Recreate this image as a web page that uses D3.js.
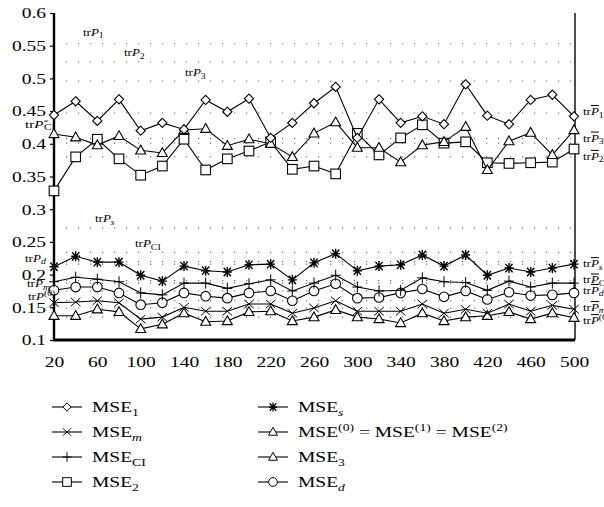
<!DOCTYPE html>
<html>
<head>
<meta charset="utf-8">
<script src="https://cdn.jsdelivr.net/npm/d3@7"></script>
<style>
  body { margin: 0; background: #fff; }
  svg text { font-family: "Liberation Serif", "DejaVu Serif", serif; fill: #000; }
</style>
</head>
<body>
<svg id="chart" width="604" height="507"></svg>
<script>
// sample sizes
var sizes = [20,40,60,80,100,120,140,160,180,200,220,240,260,280,300,320,340,360,380,400,420,440,460,480,500];

var mse1  = [0.444,0.465,0.435,0.468,0.420,0.432,0.422,0.467,0.449,0.469,0.409,0.432,0.462,0.487,0.409,0.468,0.432,0.442,0.430,0.491,0.443,0.430,0.467,0.475,0.442];
var mse3  = [0.415,0.410,0.398,0.412,0.390,0.386,0.421,0.423,0.397,0.407,0.400,0.380,0.416,0.433,0.394,0.394,0.372,0.398,0.403,0.426,0.360,0.404,0.417,0.383,0.421];
var mse2  = [0.328,0.380,0.407,0.377,0.352,0.366,0.407,0.360,0.377,0.389,0.403,0.361,0.366,0.354,0.416,0.383,0.409,0.429,0.401,0.403,0.371,0.370,0.371,0.372,0.392];
var mseS  = [0.212,0.228,0.219,0.219,0.199,0.190,0.213,0.206,0.204,0.215,0.216,0.192,0.218,0.232,0.206,0.213,0.215,0.230,0.213,0.230,0.199,0.210,0.204,0.210,0.216];
var mseCI = [0.189,0.196,0.193,0.189,0.172,0.169,0.187,0.187,0.179,0.186,0.192,0.175,0.187,0.199,0.181,0.175,0.176,0.195,0.189,0.188,0.176,0.190,0.181,0.187,0.187];
var mseD  = [0.176,0.181,0.181,0.172,0.154,0.157,0.172,0.167,0.164,0.172,0.175,0.160,0.175,0.186,0.164,0.165,0.172,0.178,0.166,0.175,0.162,0.173,0.168,0.169,0.172];
var mseM  = [0.157,0.158,0.160,0.157,0.132,0.135,0.150,0.144,0.144,0.155,0.155,0.141,0.149,0.160,0.144,0.144,0.144,0.155,0.141,0.147,0.141,0.155,0.144,0.153,0.147];
var mse0  = [0.137,0.137,0.147,0.143,0.117,0.124,0.141,0.128,0.129,0.143,0.144,0.129,0.135,0.146,0.135,0.132,0.126,0.141,0.129,0.135,0.137,0.143,0.132,0.141,0.134];

// theoretical traces (dotted lines)
var traceNames  = ['P1','P2','P3','P*CI','Ps','PCI','Pd','Pm','P0','Pb1','Pb3','Pb2','Pbs','PbCI','Pbd','Pbm','Pb0'];
var traceValues = [0.553,0.525,0.496,0.401,0.271,0.234,0.220,0.187,0.160,0.447,0.408,0.380,0.216,0.191,0.175,0.149,0.135];

var yTicks = [0.1,0.15,0.2,0.25,0.3,0.35,0.4,0.45,0.5,0.55,0.6];
var xTicks = [20,60,100,140,180,220,260,300,340,380,420,460,500];

var svg = d3.select('#chart');
var m = {t:13, l:54, r:30, b:167},
    w = 604 - m.l - m.r,
    h = 507 - m.t - m.b;
var K = 1.3; // horizontal stretch of the original figure's text

var x = d3.scaleLinear().domain([20,500]).range([0,w]);
var y = d3.scaleLinear().domain([0.1,0.6]).range([h,0]);

var g = svg.append('g').attr('transform','translate('+m.l+','+m.t+')');

function stretch(sel){
    sel.each(function(){
        var L = this.getComputedTextLength();
        d3.select(this).attr('textLength', L*K).attr('lengthAdjust','spacingAndGlyphs');
    });
}

// dotted reference lines
g.selectAll('.ref').data(traceValues).enter().append('line')
    .attr('x1',12).attr('x2',w-2)
    .attr('y1',function(d){return y(d)}).attr('y2',function(d){return y(d)})
    .attr('stroke','#666').attr('stroke-width',1.1)
    .attr('stroke-dasharray','1.2,10.8');

// axes
var yAxis = g.append('g').call(d3.axisLeft(y).tickValues(yTicks).tickSize(4).tickPadding(4)
    .tickFormat(function(d){return String(+d.toFixed(2))}));
yAxis.select('.domain').remove();
yAxis.selectAll('.tick line').attr('stroke','#000').attr('stroke-width',1.2);
yAxis.selectAll('text').attr('font-size',15).attr('font-family','Liberation Serif').call(stretch);

var xAxis = g.append('g').attr('transform','translate(0,'+h+')')
    .call(d3.axisBottom(x).tickValues(xTicks).tickSize(0).tickPadding(16));
xAxis.select('.domain').remove();
xAxis.selectAll('text').attr('font-size',15).attr('font-family','Liberation Serif').call(stretch);

g.append('line').attr('x1',0).attr('x2',0).attr('y1',0).attr('y2',h+1)
    .attr('stroke','#000').attr('stroke-width',2.4);
g.append('line').attr('x1',-1).attr('x2',w+1).attr('y1',h).attr('y2',h)
    .attr('stroke','#000').attr('stroke-width',2.8);
g.append('line').attr('x1',w+1).attr('x2',w+1).attr('y1',0).attr('y2',h)
    .attr('stroke','#000').attr('stroke-width',1.4);

// marker shapes
function marker(sel, type){
    var s = 4.6;
    if(type=='diamond') sel.append('path').attr('d','M0,'+(-s)+'L'+s+',0L0,'+s+'L'+(-s)+',0Z');
    else if(type=='square') sel.append('rect').attr('x',-4.8).attr('y',-4.8).attr('width',9.6).attr('height',9.6);
    else if(type=='circle') sel.append('circle').attr('r',4.8);
    else if(type=='triangle') sel.append('path').attr('d','M0,-5.2L5,3.6L-5,3.6Z');
    else if(type=='x') sel.append('path').attr('d','M-4.8,-4.2L4.8,4.2M-4.8,4.2L4.8,-4.2').attr('fill','none');
    else if(type=='plus') sel.append('path').attr('d','M-5,0L5,0M0,-5.5L0,5.5').attr('fill','none');
    else if(type=='star') sel.append('path').attr('d','M-4.5,0L4.5,0M-3.6,-4.2L3.6,4.2M-3.6,4.2L3.6,-4.2M0,-5L0,5').attr('fill','none').attr('stroke-width',1.4);
    sel.selectAll('*').attr('stroke','#000').filter(function(){return this.getAttribute('fill')!='none'})
        .attr('fill','#fff').attr('stroke-width',1.1);
}

var series = [
    {vals:mse0, type:'triangle'},
    {vals:mseM, type:'x'},
    {vals:mseD, type:'circle'},
    {vals:mseCI, type:'plus'},
    {vals:mseS, type:'star'},
    {vals:mse2, type:'square'},
    {vals:mse3, type:'triangle'},
    {vals:mse1, type:'diamond'}
];

var line = d3.line().x(function(d,i){return x(sizes[i])}).y(function(d){return y(d)});

series.forEach(function(s){
    g.append('path').datum(s.vals).attr('d',line)
        .attr('fill','none').attr('stroke','#000').attr('stroke-width',1.1);
    g.selectAll(null).data(s.vals).enter().append('g')
        .attr('transform',function(d,i){return 'translate('+x(sizes[i])+','+y(d)+')'})
        .each(function(){ marker(d3.select(this), s.type); });
});

// trace labels: [index into traces, x (px from chart left), dy from line]
var labelPos = [
    [0, 29, -8], [1, 70, -6], [2, 131, -5], [3, -29, -15], [4, 41, -6], [5, 81, -5],
    [6, -29, 0], [7, -27, 4], [8, -26, -1],
    [9, w+9, 2], [10, w+9, 3], [11, w+9, 3], [12, w+9, 3], [13, w+9, 3], [14, w+9, 3], [15, w+9, 3], [16, w+9, 7]
];

function traceLabel(sel, name){
    var bar = name.indexOf('Pb')==0;
    var sub = bar ? name.slice(2) : name.slice(1);
    var star = false;
    if(sub.indexOf('*')==0){ star = true; sub = sub.slice(1); }
    sel.append('tspan').text('tr');
    var p = sel.append('tspan').attr('font-style','italic').text('P');
    if(bar) p.attr('text-decoration','overline');
    if(sub=='0'){
        sel.append('tspan').attr('dy',-4).attr('font-size',7.5).text('(0)');
    } else {
        var it = (sub=='s'||sub=='d'||sub=='m');
        if(star){
            sel.append('tspan').attr('dy',-4).attr('font-size',7).text('*');
            sel.append('tspan').attr('dy',6).attr('dx',-3).attr('font-size',7.5).text(sub);
        } else {
            sel.append('tspan').attr('dy',2.5).attr('font-size',7.5)
                .attr('font-style',it?'italic':null).text(sub);
        }
    }
}

g.selectAll('.tl').data(labelPos).enter().append('text')
    .attr('class','tl')
    .attr('x',function(d){return d[1]})
    .attr('y',function(d){return y(traceValues[d[0]])+d[2]})
    .attr('font-size',10).attr('fill','#333')
    .each(function(d){ traceLabel(d3.select(this), traceNames[d[0]]); })
    .call(stretch);

// legend
var legendNames = [
    [['MSE',''],['1','sub']],
    [['MSE',''],['m','subi']],
    [['MSE',''],['CI','sub']],
    [['MSE',''],['2','sub']],
    [['MSE',''],['s','subi']],
    [['MSE',''],['(0)','sup'],[' = MSE',''],['(1)','sup'],[' = MSE',''],['(2)','sup']],
    [['MSE',''],['3','sub']],
    [['MSE',''],['d','subi']]
];
var legendTypes = ['diamond','x','plus','square','star','triangle','triangle','circle'];

var leg = svg.append('g');
legendNames.forEach(function(parts,i){
    var col = i<4 ? 0 : 1, row = i%4;
    var lx = col==0 ? 52 : 258, ly = 407 + row*25;
    var it = leg.append('g').attr('transform','translate('+lx+','+ly+')');
    it.append('line').attr('x1',0).attr('x2',30).attr('stroke','#000').attr('stroke-width',1.1);
    var mk = it.append('g').attr('transform','translate(15,0) scale(0.9)');
    marker(mk, legendTypes[i]);
    var t = it.append('text').attr('x',40).attr('y',5).attr('font-size',15);
    var shift = 0;
    parts.forEach(function(p){
        var ts = t.append('tspan').text(p[0]);
        var want = p[1]=='sub'||p[1]=='subi' ? 4 : (p[1]=='sup' ? -6 : 0);
        ts.attr('dy', want-shift); shift = want;
        if(p[1]!='') ts.attr('font-size',10.5);
        if(p[1]=='subi') ts.attr('font-style','italic');
    });
    t.call(stretch);
});
</script>
</body>
</html>
